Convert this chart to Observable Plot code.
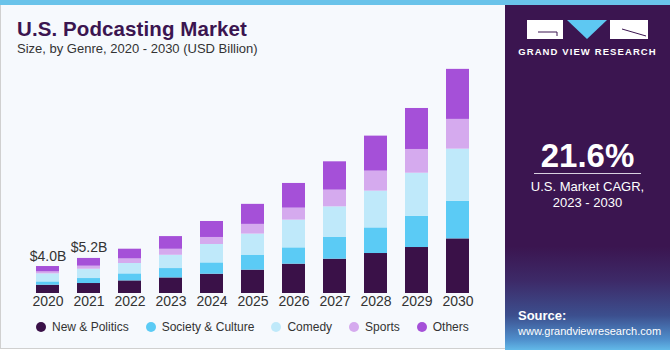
<!DOCTYPE html>
<html>
<head>
<meta charset="utf-8">
<script src="https://cdn.jsdelivr.net/npm/d3@7"></script>
<script src="https://cdn.jsdelivr.net/npm/@observablehq/plot@0.6"></script>
<style>
  html, body { margin: 0; padding: 0; }
  body { width: 670px; height: 350px; overflow: hidden; background: #ffffff; font-family: "Liberation Sans", Arial, sans-serif; }
  #wrap { position: relative; width: 670px; height: 350px; }
  #strip { position: absolute; left: 0; top: 0; width: 670px; height: 5px; background: #6ac3ea; }
  #panel { position: absolute; left: 0; top: 5px; width: 504px; height: 343px; background: #f6f9fd; border-left: 1px solid #d0d0d0; border-bottom: 1px solid #d0d0d0; }
  #title { position: absolute; left: 17px; top: 17px; font-size: 20.5px; font-weight: 700; color: #3b1550; letter-spacing: 0.1px; }
  #subtitle { position: absolute; left: 17px; top: 41px; font-size: 13px; color: #333; }
  #chart { position: absolute; left: 0; top: 0; }
  #legend { position: absolute; left: 36px; top: 320px; display: flex; gap: 17px; font-size: 12px; color: #333; }
  #legend .item { display: flex; align-items: center; gap: 6px; }
  #legend .dot { width: 10px; height: 10px; border-radius: 50%; }
  #side { position: absolute; left: 505px; top: 5px; width: 165px; height: 345px;
    background: linear-gradient(to bottom, #3b1550 0%, #3b1550 70%, #3d2a68 80%, #3c4f8e 90%, #4f8fcc 97%, #62b9e8 100%); color: #fff; text-align: center; }
  #brand { position: absolute; left: 0; width: 165px; top: 41px; font-size: 9.5px; font-weight: 700; letter-spacing: 1.1px; }
  #cagr { position: absolute; left: 0; width: 165px; top: 132px; font-size: 33px; font-weight: 700; }
  #rule { position: absolute; left: 29px; width: 107px; top: 168px; height: 1px; background: #d8d0e0; }
  #cagrtxt { position: absolute; left: 0; width: 165px; top: 174px; font-size: 13px; line-height: 16px; }
  #src { position: absolute; left: 13px; top: 303px; text-align: left; font-size: 11px; line-height: 15px; }
  #src b { font-size: 13px; }
</style>
</head>
<body>
<div id="wrap">
  <div id="panel"></div>
  <div id="strip"></div>
  <div id="title">U.S. Podcasting Market</div>
  <div id="subtitle">Size, by Genre, 2020 - 2030 (USD Billion)</div>
  <div id="chart"></div>
  <div id="legend"></div>
  <div id="side">
    <svg width="165" height="40" style="position:absolute;left:0;top:0">
      <rect x="22" y="15" width="36" height="19" fill="#ffffff"/>
      <path d="M33 27 H52 V31" stroke="#3b1550" stroke-width="1" fill="none"/>
      <path d="M62 15 H102 L82 34 Z" fill="#5ec8f2"/>
      <rect x="105" y="15" width="38" height="19" fill="#ffffff"/>
      <path d="M117 24 L141 31" stroke="#3b1550" stroke-width="1" fill="none"/>
    </svg>
    <div id="brand">GRAND VIEW RESEARCH</div>
    <div id="cagr">21.6%</div>
    <div id="rule"></div>
    <div id="cagrtxt">U.S. Market CAGR,<br>2023 - 2030</div>
    <div id="src"><b>Source:</b><br>www.grandviewresearch.com</div>
  </div>
</div>
<script>
const years = ["2020","2021","2022","2023","2024","2025","2026","2027","2028","2029","2030"];
const genres = ["New & Politics","Society & Culture","Comedy","Sports","Others"];
const colors = ["#3a1148","#5bcbf5","#bfe9fa","#d5aaee","#a550d8"];

const newsPolitics   = [1.23, 1.48, 1.87, 2.31, 2.86, 3.46, 4.35, 5.09, 5.93, 6.82, 8.10];
const societyCulture = [0.49, 0.74, 1.04, 1.39, 1.68, 2.23, 2.42, 3.22, 3.80, 4.64, 5.59];
const comedy         = [1.19, 1.38, 1.54, 1.97, 2.73, 3.12, 4.11, 4.54, 5.45, 6.38, 7.72];
const sports         = [0.30, 0.45, 0.68, 0.89, 1.04, 1.44, 1.78, 2.48, 2.97, 3.52, 4.41];
const others         = [0.79, 1.15, 1.44, 1.88, 2.37, 2.97, 3.66, 4.20, 5.19, 6.08, 7.42];

const labelYears = ["2020","2021"];
const labelTexts = ["$4.0B","$5.2B"];

const series = [newsPolitics, societyCulture, comedy, sports, others];
const data = [];
years.forEach((yr, i) => {
  genres.forEach((g, j) => data.push({year: yr, genre: g, value: series[j][i]}));
});
const totals = years.map((yr, i) => series.reduce((s, arr) => s + arr[i], 0));
const labels = labelYears.map((yr, k) => ({year: yr, total: totals[years.indexOf(yr)], text: labelTexts[k]}));

const chart = Plot.plot({
  width: 505,
  height: 315,
  marginTop: 57,
  marginBottom: 22,
  marginLeft: 13,
  marginRight: 13,
  style: {background: "transparent", fontFamily: "Liberation Sans, Arial, sans-serif", fontSize: "14px", color: "#333"},
  x: {domain: years, padding: 0.427, label: null, tickSize: 0, tickPadding: 3},
  y: {domain: [0, 35], axis: null},
  color: {domain: genres, range: colors},
  marks: [
    Plot.barY(data, {x: "year", y: "value", fill: "genre"}),
    Plot.text(labels, {x: "year", y: "total", text: "text", lineAnchor: "bottom", dy: -6, fontSize: 14, fill: "#333"})
  ]
});
document.getElementById("chart").appendChild(chart);

const legend = document.getElementById("legend");
genres.forEach((g, j) => {
  const item = document.createElement("div");
  item.className = "item";
  const dot = document.createElement("span");
  dot.className = "dot";
  dot.style.background = colors[j];
  const t = document.createElement("span");
  t.textContent = g;
  item.appendChild(dot);
  item.appendChild(t);
  legend.appendChild(item);
});
</script>
</body>
</html>
